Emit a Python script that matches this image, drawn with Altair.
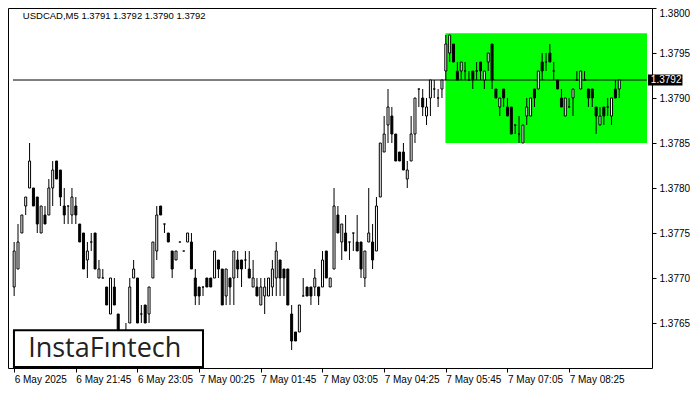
import altair as alt
import pandas as pd

# ---- candle data (USDCAD M5), bar 1 = 6 May 20:25 ----
opens = [1.3769,1.3771,1.3775,1.3778,1.3780,1.3780,1.3779,1.3775,1.3777,1.3777,
         1.3780,1.3783,1.3782,1.3778,1.3778,1.3777,1.3778,1.3776,1.3775,1.3772,
         1.3774,1.3775,1.3770,1.3770,1.3769,1.3766,1.3769,1.3766,1.37636,1.37632,
         1.3765,1.3770,1.3770,1.3766,1.3767,1.3766,1.3770,1.3773,1.3778,1.3776,
         1.3775,1.3773,1.3772,1.3774,1.3773,1.3774,1.3774,1.3770,1.3769,1.3769,
         1.3770,1.3770,1.3770,1.3772,1.3771,1.3768,1.3770,1.3770,1.3772,1.3772,
         1.3772,1.3771,1.3769,1.3769,1.3767,1.3768,1.3768,1.3769,1.3770,1.3772,
         1.3771,1.3771,1.3766,1.3764,1.3764,1.3768,1.3769,1.3769,1.3769,1.3769,
         1.3769,1.3773,1.3769,1.3771,1.3777,1.3774,1.3775,1.3774,1.3775,1.3774,
         1.3774,1.3770,1.3774,1.3774,1.3773,1.3779,1.3784,1.3787,1.3788,1.3786,
         1.3784,1.3784,1.3781,1.3783,1.3786,1.3791,1.3790,1.3788,1.3790,1.3791,
         1.3790,1.3791,1.3793,1.3795,1.3796,1.3793,1.3793,1.3793,1.3792,1.3793,
         1.3793,1.3794,1.3792,1.3794,1.3796,1.3791,1.3789,1.3791,1.3789,1.3789,
         1.3787,1.3786,1.3785,1.3788,1.3788,1.3791,1.3791,1.3794,1.3794,1.3795,
         1.3793,1.3792,1.3790,1.3788,1.3789,1.3790,1.3792,1.3791,1.3792,1.3791,
         1.3791,1.3789,1.3787,1.3789,1.3789,1.3788,1.3791,1.3791]
highs = [1.3774,1.3776,1.3777,1.3779,1.3785,1.3780,1.3779,1.3778,1.3778,1.3781,
         1.3783,1.3783,1.3782,1.3780,1.3778,1.3780,1.3779,1.3776,1.3775,1.3774,
         1.3775,1.3775,1.3772,1.3771,1.3769,1.3770,1.3770,1.3766,1.37638,1.3765,
         1.3770,1.3772,1.3770,1.3767,1.3767,1.3769,1.3774,1.3778,1.3778,1.3776,
         1.3775,1.3773,1.3773,1.3774,1.3773,1.3775,1.3775,1.3771,1.3769,1.3769,
         1.3770,1.3770,1.3773,1.3772,1.3771,1.3771,1.3770,1.3773,1.3773,1.3772,
         1.3773,1.3773,1.3772,1.3770,1.3770,1.3770,1.3770,1.3772,1.3774,1.3772,
         1.3771,1.3771,1.3767,1.3764,1.3767,1.3770,1.3769,1.3769,1.3771,1.3769,
         1.3773,1.3773,1.3770,1.3780,1.3778,1.3776,1.3777,1.3774,1.3775,1.3777,
         1.3774,1.3773,1.3780,1.3776,1.3779,1.3785,1.3788,1.3791,1.3789,1.3786,
         1.3784,1.3785,1.3783,1.3788,1.3790,1.3791,1.3791,1.3790,1.3792,1.3792,
         1.3791,1.3792,1.3797,1.3797,1.3796,1.3794,1.3794,1.3794,1.3793,1.3793,
         1.3794,1.3794,1.3793,1.3795,1.3796,1.3791,1.3790,1.3791,1.3790,1.3789,
         1.3787,1.3788,1.3787,1.3790,1.3790,1.3791,1.3793,1.3795,1.3795,1.3796,
         1.3794,1.3792,1.3791,1.3790,1.3790,1.3791,1.3793,1.3793,1.3793,1.3791,
         1.3791,1.3789,1.3789,1.3789,1.3790,1.3790,1.3792,1.3792]
lows = [1.3768,1.3771,1.3775,1.3777,1.3780,1.3778,1.3775,1.3775,1.3776,1.3777,
        1.3778,1.3781,1.3778,1.3776,1.3776,1.3776,1.3776,1.3774,1.3771,1.3770,
        1.3773,1.3771,1.3770,1.3770,1.3767,1.3766,1.3767,1.37635,1.37624,1.37628,
        1.3765,1.3770,1.3765,1.3765,1.3765,1.3765,1.3770,1.3772,1.3777,1.3775,
        1.3774,1.3770,1.3772,1.3774,1.3773,1.3774,1.3771,1.3767,1.3767,1.3768,
        1.3769,1.3769,1.3770,1.3770,1.3767,1.3767,1.3767,1.3767,1.3770,1.3769,
        1.3771,1.3770,1.3769,1.3768,1.3767,1.3766,1.3768,1.3768,1.3768,1.3768,
        1.3768,1.3767,1.3762,1.3763,1.3764,1.3768,1.3768,1.3767,1.3768,1.3767,
        1.3769,1.3770,1.3769,1.3771,1.3775,1.3772,1.3773,1.3772,1.3773,1.3773,
        1.3770,1.3769,1.3774,1.3771,1.3773,1.3779,1.3784,1.3785,1.3785,1.3783,
        1.3783,1.3782,1.3780,1.3783,1.3785,1.3789,1.3788,1.3787,1.3788,1.3790,
        1.3789,1.3790,1.3792,1.3794,1.3794,1.3792,1.3792,1.3792,1.3792,1.3791,
        1.3792,1.3792,1.3791,1.3793,1.3791,1.3790,1.3788,1.3789,1.3788,1.3786,
        1.3786,1.3785,1.3785,1.3787,1.3788,1.3789,1.3791,1.3792,1.3793,1.3794,
        1.3792,1.3791,1.3789,1.3788,1.3789,1.3788,1.3792,1.3791,1.3792,1.3789,
        1.3789,1.3786,1.3787,1.3787,1.3788,1.3787,1.3790,1.3790]
closes = [1.3773,1.3774,1.3777,1.3779,1.3783,1.3778,1.3776,1.3778,1.3776,1.3780,
          1.3782,1.3781,1.3779,1.3777,1.3778,1.3779,1.3777,1.3774,1.3771,1.3773,
          1.3774,1.3771,1.3771,1.3770,1.3767,1.3770,1.3767,1.3764,1.37629,1.37637,
          1.3769,1.3771,1.3765,1.3766,1.3765,1.3769,1.3774,1.3777,1.3777,1.3776,
          1.3774,1.3771,1.3773,1.3774,1.3773,1.3775,1.3771,1.3768,1.3768,1.3769,
          1.3769,1.3769,1.3773,1.3771,1.3767,1.3771,1.3769,1.3773,1.3771,1.3771,
          1.3772,1.3770,1.3770,1.3768,1.3769,1.3769,1.3770,1.3771,1.3773,1.3770,
          1.3770,1.3767,1.3763,1.3763,1.3767,1.3768,1.3768,1.3768,1.3770,1.3768,
          1.3772,1.3770,1.3770,1.3778,1.3775,1.3776,1.3773,1.3774,1.3775,1.3773,
          1.3771,1.3773,1.3775,1.3772,1.3778,1.3785,1.3786,1.3789,1.3786,1.3783,
          1.3783,1.3782,1.3782,1.3786,1.3790,1.3791,1.3789,1.3789,1.3792,1.3791,
          1.3790,1.3792,1.3796,1.3797,1.3794,1.3792,1.3794,1.3793,1.3792,1.3792,
          1.3793,1.3793,1.3793,1.3795,1.3792,1.3790,1.3790,1.3790,1.3788,1.3786,
          1.3787,1.3786,1.3787,1.3789,1.3790,1.3790,1.3793,1.3793,1.3794,1.3794,
          1.3793,1.3791,1.3789,1.3790,1.3789,1.3791,1.3792,1.3793,1.3792,1.3790,
          1.3790,1.3788,1.3788,1.3788,1.3789,1.3790,1.3790,1.3792]

tick_bars = [1, 17, 33, 49, 65, 81, 97, 113, 129, 145]
tick_labels = ["6 May 2025", "6 May 21:45", "6 May 23:05", "7 May 00:25",
               "7 May 01:45", "7 May 03:05", "7 May 04:25", "7 May 05:45",
               "7 May 07:05", "7 May 08:25"]
y_ticks = [1.3765, 1.3770, 1.3775, 1.3780, 1.3785, 1.3790, 1.3795, 1.3800]

x_domain = [0.7, 165.2]
y_domain = [1.3760, 1.3800]

current_price = 1.3792
current_label = "1.3792"
header_text = "USDCAD,M5  1.3791 1.3792 1.3790 1.3792"

zone_x = [112.9]
zone_x2 = [165.2]
zone_low = [1.3785]
zone_high = [1.37972]

logo_text = "InstaF\u0131ntech"

FONT = "Liberation Sans"

# ---- data frames ----
bars = list(range(1, len(opens) + 1))
df = pd.DataFrame({"bar": bars, "open": opens, "high": highs,
                   "low": lows, "close": closes})
df["dir"] = ["up" if c >= o else "down" for o, c in zip(opens, closes)]

zone_df = pd.DataFrame({"x": zone_x, "x2": zone_x2, "y": zone_low, "y2": zone_high})
line_df = pd.DataFrame({"x": [x_domain[0]], "x2": [x_domain[1]], "y": [current_price]})
plabel_df = pd.DataFrame({"x": [165.45], "x2": [174.4], "y": [1.379261], "y2": [1.379139],
                          "tx": [166.2], "ty": [current_price], "label": [current_label]})
header_df = pd.DataFrame({"x": [3.25], "y": [1.37991], "label": [header_text]})
logo_df = pd.DataFrame({"x": [0.95], "x2": [50.0], "y": [1.37601], "y2": [1.37642],
                        "tx": [24.5], "ty": [1.37621], "label": [logo_text]})

label_expr = " : ".join(
    f"datum.value == {b} ? '{t}'" for b, t in zip(tick_bars, tick_labels)) + " : ''"

x_scale = alt.Scale(domain=x_domain, nice=False, zero=False)
y_scale = alt.Scale(domain=y_domain, nice=False, zero=False)

x_axis = alt.Axis(values=tick_bars, labelExpr=label_expr, title=None, grid=False,
                  domain=False, tickSize=4, tickColor="black", labelAlign="left",
                  labelBaseline="top", labelPadding=2, labelFont=FONT, labelFontSize=10,
                  labelColor="black", labelOverlap=False, labelFlush=False, labelBound=False)
y_axis = alt.Axis(values=y_ticks, format=".4f", orient="right", title=None, grid=False,
                  domain=False, tickSize=4, tickColor="black", labelPadding=3,
                  labelFont=FONT, labelFontSize=10, labelColor="black", labelFlush=True,
                  labelOverlap=False)


def X(field):
    return alt.X(f"{field}:Q", scale=x_scale, axis=x_axis)


def Y(field):
    return alt.Y(f"{field}:Q", scale=y_scale, axis=y_axis)


zone = alt.Chart(zone_df).mark_rect(color="#00FF00").encode(
    x=X("x"), x2="x2", y=Y("y"), y2="y2")

price_line = alt.Chart(line_df).mark_rule(color="black", strokeWidth=1).encode(
    x=X("x"), x2="x2", y=Y("y"))

wicks = alt.Chart(df).mark_rule(color="black", strokeWidth=1).encode(
    x=X("bar"), y=Y("low"), y2="high")

bodies = alt.Chart(df).mark_bar(size=2, stroke="black", strokeWidth=1).encode(
    x=X("bar"), y=Y("open"), y2="close",
    fill=alt.Fill("dir:N", scale=alt.Scale(domain=["up", "down"], range=["white", "black"]),
                  legend=None))

plabel_box = alt.Chart(plabel_df).mark_rect(color="black").encode(
    x=X("x"), x2="x2", y=Y("y"), y2="y2")
plabel_text = alt.Chart(plabel_df).mark_text(
    color="white", align="left", baseline="middle", font=FONT, fontSize=10).encode(
    x=X("tx"), y=Y("ty"), text="label:N")

header = alt.Chart(header_df).mark_text(
    color="black", align="left", baseline="middle", font=FONT, fontSize=9.5).encode(
    x=X("x"), y=Y("y"), text="label:N")

logo_box = alt.Chart(logo_df).mark_rect(fill="white", stroke="black", strokeWidth=2).encode(
    x=X("x"), x2="x2", y=Y("y"), y2="y2")
logo_txt = alt.Chart(logo_df).mark_text(
    color="#222222", align="center", baseline="middle", font="Open Sans", fontSize=27).encode(
    x=X("tx"), y=Y("ty"), text="label:N")

chart = alt.layer(
    zone, price_line, wicks, bodies, plabel_box, plabel_text, header, logo_box, logo_txt
).properties(
    width=644, height=360,
    autosize=alt.AutoSizeParams(type="none"),
    padding={"left": 0, "top": 0, "right": 38, "bottom": 18},
    background="white"
).configure_view(stroke="black", strokeWidth=1)

chart.save("out.html", embed_options={"renderer": "svg", "actions": False})
